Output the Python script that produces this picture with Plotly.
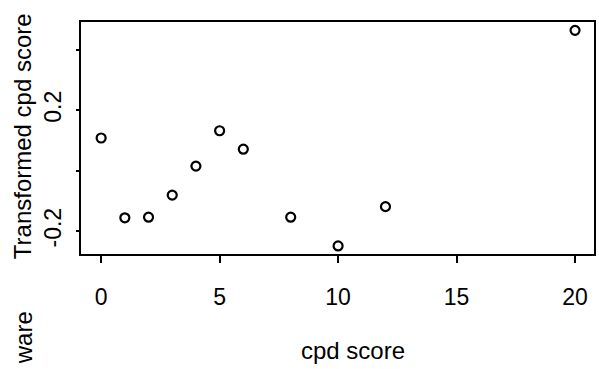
import plotly.graph_objects as go

# cpd score vs transformed cpd score
cpd_score = [0, 1, 2, 3, 4, 5, 6, 8, 10, 12, 20]
transformed = [0.108, -0.156, -0.154, -0.081, 0.015, 0.132, 0.071, -0.154, -0.249, -0.119, 0.464]

x_ticks = [0, 5, 10, 15, 20]
y_ticks = [-0.2, 0.0, 0.2, 0.4]
y_tick_text = ["-0.2", "", "0.2", ""]

FONT = "Liberation Sans, Arial, sans-serif"
W, H = 599, 369
L, R, T, B = 81, 3, 22, 115

fig = go.Figure(
    go.Scatter(
        x=cpd_score,
        y=transformed,
        mode="markers",
        marker=dict(symbol="circle-open", size=9, color="black", line=dict(width=2.2)),
        hoverinfo="x+y",
    )
)

axis_common = dict(
    showline=True,
    linecolor="black",
    linewidth=2,
    mirror=True,
    showgrid=False,
    zeroline=False,
    ticks="outside",
    tickcolor="black",
    tickwidth=2,
    tickfont=dict(family=FONT, size=23, color="black"),
)

fig.update_xaxes(
    range=[-0.85, 20.8],
    tickvals=x_ticks,
    ticktext=[str(v) for v in x_ticks],
    ticklen=7,
    ticklabelstandoff=14,
    **axis_common,
)
fig.update_yaxes(
    range=[-0.2757, 0.4917],
    tickvals=y_ticks,
    ticktext=y_tick_text,
    ticklen=3,
    tickangle=-90,
    ticklabelstandoff=6,
    **axis_common,
)

def px_x(p):
    return (p - L) / (W - L - R)

def px_y(p):
    return 1 - (p - T) / (H - T - B)

title_font = dict(family=FONT, size=24, color="black")
fig.add_annotation(text="cpd score", x=px_x(354), y=px_y(350), xref="paper", yref="paper",
                   showarrow=False, font=title_font, xanchor="center", yanchor="middle")
fig.add_annotation(text="Transformed cpd score", x=px_x(22), y=px_y(136), xref="paper", yref="paper",
                   showarrow=False, font=title_font, textangle=-90, xanchor="center", yanchor="middle")
fig.add_annotation(text="ware", x=px_x(23), y=px_y(338), xref="paper", yref="paper",
                   showarrow=False, font=title_font, textangle=-90, xanchor="center", yanchor="middle")

fig.update_layout(
    width=W,
    height=H,
    margin=dict(l=L, r=R, t=T, b=B, pad=0),
    paper_bgcolor="white",
    plot_bgcolor="white",
    showlegend=False,
)

fig.write_html("out.html")
